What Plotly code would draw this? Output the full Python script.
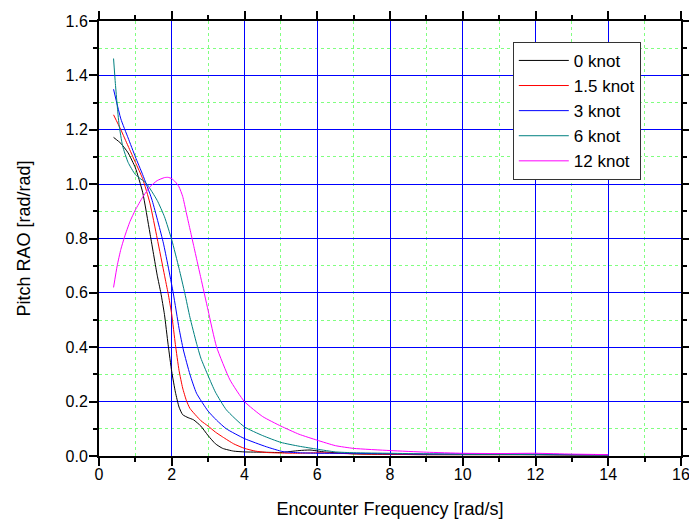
import plotly.graph_objects as go

# ---- data ----
x_0knot = [0.4, 0.6, 0.8, 1.0, 1.2, 1.4, 1.6, 1.7, 1.8, 1.9, 2.0, 2.1, 2.2, 2.3, 2.45, 2.6, 2.8, 3.0, 3.2, 3.4,
           3.7, 4.0, 4.5, 5.0, 5.5, 5.8, 6.2, 7, 8, 9, 10, 11, 12, 13, 14]
y_0knot = [1.172, 1.15, 1.115, 1.06, 0.97, 0.82, 0.665, 0.60, 0.52, 0.41, 0.31, 0.235, 0.18, 0.152, 0.141, 0.133,
           0.11, 0.075, 0.045, 0.028, 0.018, 0.015, 0.014, 0.013, 0.02, 0.022, 0.015, 0.008, 0.006, 0.005,
           0.005, 0.005, 0.005, 0.004, 0.004]

x_15knot = [0.4, 0.6, 0.8, 1.0, 1.2, 1.4, 1.6, 1.8, 1.9, 2.0, 2.1, 2.2, 2.3, 2.4, 2.5, 2.8, 3.0, 3.2, 3.4, 3.7,
            4.0, 4.3, 4.6, 5.0, 5.5, 6.0, 7, 8, 9, 10, 11, 12, 13, 14]
y_15knot = [1.255, 1.20, 1.14, 1.08, 1.02, 0.93, 0.80, 0.665, 0.598, 0.52, 0.41, 0.315, 0.25, 0.205, 0.175,
            0.13, 0.11, 0.088, 0.07, 0.045, 0.028, 0.018, 0.013, 0.011, 0.01, 0.012, 0.008, 0.006, 0.005,
            0.005, 0.005, 0.005, 0.004, 0.004]

x_3knot = [0.4, 0.6, 0.8, 1.0, 1.2, 1.45, 1.77, 2.04, 2.2, 2.32, 2.5, 2.68, 3.0, 3.23, 3.5, 4.0, 4.6, 5.06,
           5.5, 6.0, 7, 8, 9, 10, 11, 12, 13, 14]
y_3knot = [1.349, 1.24, 1.17, 1.10, 1.035, 0.945, 0.783, 0.60, 0.47, 0.39, 0.30, 0.231, 0.165, 0.132, 0.10,
           0.064, 0.034, 0.016, 0.012, 0.01, 0.01, 0.008, 0.007, 0.008, 0.008, 0.007, 0.005, 0.004]

x_6knot = [0.4, 0.45, 0.5, 0.55, 0.65, 0.8, 1.0, 1.3, 1.6, 1.8, 2.0, 2.2, 2.36, 2.5, 2.68, 2.8, 3.0, 3.2,
           3.5, 4.0, 4.5, 5.0, 5.5, 6.0, 6.5, 7, 8, 9, 10, 11, 12, 13, 14]
y_6knot = [1.462, 1.37, 1.29, 1.22, 1.14, 1.08, 1.035, 1.003, 0.94, 0.88, 0.795, 0.69, 0.598, 0.51, 0.415,
           0.36, 0.295, 0.235, 0.17, 0.107, 0.075, 0.05, 0.036, 0.025, 0.015, 0.012, 0.01, 0.008, 0.006,
           0.006, 0.005, 0.004, 0.004]

x_12knot = [0.4, 0.5, 0.6, 0.7, 0.85, 1.0, 1.2, 1.4, 1.6, 1.8, 1.9, 2.0, 2.1, 2.2, 2.3, 2.4, 2.5, 2.6, 2.7,
            2.8, 3.0, 3.23, 3.6, 4.0, 4.5, 5.0, 5.5, 6.0, 6.5, 7.0, 8.0, 9.0, 10, 11, 12, 13, 14]
y_12knot = [0.62, 0.70, 0.76, 0.805, 0.862, 0.905, 0.952, 0.99, 1.013, 1.024, 1.025, 1.02, 1.008, 0.99, 0.955,
            0.895, 0.835, 0.775, 0.715, 0.655, 0.535, 0.402, 0.28, 0.20, 0.145, 0.11, 0.08, 0.058, 0.038,
            0.028, 0.02, 0.014, 0.01, 0.009, 0.01, 0.007, 0.005]

series_names = ["0 knot", "1.5 knot", "3 knot", "6 knot", "12 knot"]
series_x = [x_0knot, x_15knot, x_3knot, x_6knot, x_12knot]
series_y = [y_0knot, y_15knot, y_3knot, y_6knot, y_12knot]
series_colors = ["#000000", "#ff0000", "#0000ff", "#008080", "#ff00ff"]

FONT = "Arial, Liberation Sans, sans-serif"

fig = go.Figure()
for name, xs, ys, col in zip(series_names, series_x, series_y, series_colors):
    fig.add_trace(go.Scatter(x=xs, y=ys, mode="lines", name=name,
                             line=dict(color=col, width=1, shape="spline", smoothing=0.5)))

axis_common = dict(
    showline=True, linecolor="black", linewidth=2, mirror="allticks",
    ticks="outside", ticklen=8, tickwidth=1.5, tickcolor="black",
    showgrid=True, gridcolor="#0000ff", gridwidth=1,
    zeroline=False, automargin=False, ticklabeloverflow="allow",
    tickfont=dict(family=FONT, size=16, color="black"),
)

fig.update_xaxes(
    range=[0, 16], tick0=0, dtick=2, ticklabelstandoff=-5,
    title=dict(text="Encounter Frequency [rad/s]", font=dict(family=FONT, size=18, color="black"),
               standoff=20),
    minor=dict(dtick=1, ticklen=4, tickcolor="black", tickwidth=1.5, showgrid=True,
               gridcolor="#80ff80", griddash="dot", gridwidth=1),
    **axis_common,
)
fig.update_yaxes(
    range=[0, 1.6], tick0=0, dtick=0.2, tickformat=".1f", ticklabelstandoff=-2,
    title=dict(text="Pitch RAO [rad/rad]", font=dict(family=FONT, size=18, color="black"),
               standoff=30),
    minor=dict(dtick=0.1, ticklen=4, tickcolor="black", tickwidth=1.5, showgrid=True,
               gridcolor="#80ff80", griddash="dot", gridwidth=1),
    **axis_common,
)

fig.update_layout(
    width=689, height=523,
    margin=dict(l=99, r=8, t=21, b=67),
    paper_bgcolor="white", plot_bgcolor="white",
    font=dict(family=FONT, color="black"),
    legend=dict(x=0.711, y=0.952, xanchor="left", yanchor="top",
                bgcolor="white", bordercolor="#333333", borderwidth=1,
                font=dict(family=FONT, size=17, color="black"),
                tracegroupgap=0, itemwidth=50),
    showlegend=True,
)

# remove the browser's default 8px body margin so the figure fills the window exactly
fig.write_html("out.html",
               config={"displayModeBar": False},
               post_script="document.body.style.margin='0';document.body.style.overflow='hidden';")
